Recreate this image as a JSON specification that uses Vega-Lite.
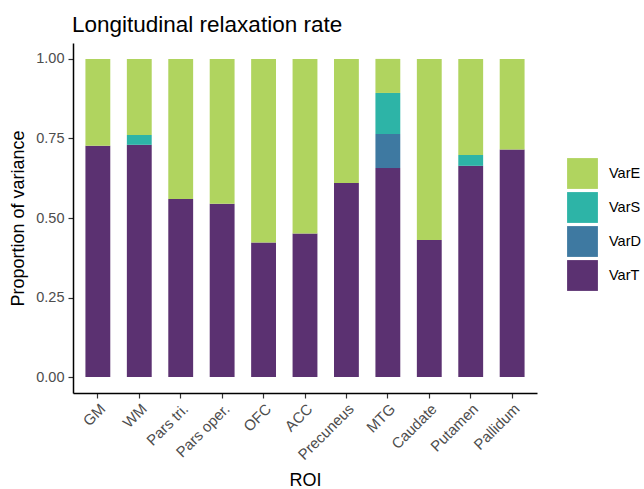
{
  "$schema": "https://vega.github.io/schema/vega-lite/v6.json",
  "autosize": {"type": "none"},
  "width": 464,
  "height": 350,
  "padding": {"left": 73, "top": 43, "right": 107, "bottom": 96},
  "background": "white",
  "title": {"text": "Longitudinal relaxation rate", "anchor": "start", "frame": "group", "offset": 7, "fontSize": 22.5, "fontWeight": "normal", "font": "Liberation Sans", "color": "#000000", "dx": -1},
  "data": {"values": [
    {"roi": "GM", "component": "VarT", "value": 0.727},
    {"roi": "GM", "component": "VarE", "value": 0.273},
    {"roi": "WM", "component": "VarT", "value": 0.730},
    {"roi": "WM", "component": "VarS", "value": 0.031},
    {"roi": "WM", "component": "VarE", "value": 0.239},
    {"roi": "Pars tri.", "component": "VarT", "value": 0.560},
    {"roi": "Pars tri.", "component": "VarE", "value": 0.440},
    {"roi": "Pars oper.", "component": "VarT", "value": 0.545},
    {"roi": "Pars oper.", "component": "VarE", "value": 0.455},
    {"roi": "OFC", "component": "VarT", "value": 0.423},
    {"roi": "OFC", "component": "VarE", "value": 0.577},
    {"roi": "ACC", "component": "VarT", "value": 0.451},
    {"roi": "ACC", "component": "VarE", "value": 0.549},
    {"roi": "Precuneus", "component": "VarT", "value": 0.610},
    {"roi": "Precuneus", "component": "VarE", "value": 0.390},
    {"roi": "MTG", "component": "VarT", "value": 0.657},
    {"roi": "MTG", "component": "VarD", "value": 0.107},
    {"roi": "MTG", "component": "VarS", "value": 0.129},
    {"roi": "MTG", "component": "VarE", "value": 0.107},
    {"roi": "Caudate", "component": "VarT", "value": 0.431},
    {"roi": "Caudate", "component": "VarE", "value": 0.569},
    {"roi": "Putamen", "component": "VarT", "value": 0.664},
    {"roi": "Putamen", "component": "VarS", "value": 0.034},
    {"roi": "Putamen", "component": "VarE", "value": 0.302},
    {"roi": "Pallidum", "component": "VarT", "value": 0.715},
    {"roi": "Pallidum", "component": "VarE", "value": 0.285}
  ]},
  "transform": [
    {"calculate": "indexof(['VarT','VarD','VarS','VarE'], datum.component)", "as": "stackOrder"}
  ],
  "mark": {"type": "bar"},
  "encoding": {
    "x": {
      "field": "roi", "type": "nominal",
      "sort": ["GM", "WM", "Pars tri.", "Pars oper.", "OFC", "ACC", "Precuneus", "MTG", "Caudate", "Putamen", "Pallidum"],
      "scale": {"paddingInner": 0.4, "paddingOuter": 0.3},
      "axis": {"title": "ROI", "labelAngle": -45, "labelAlign": "right", "labelBaseline": "top", "labelFont": "Liberation Sans", "labelFontSize": 15, "labelColor": "#4D4D4D", "titleFont": "Liberation Sans", "titleFontSize": 18, "titleFontWeight": "normal", "titleColor": "#000000", "domainColor": "#000000", "domainWidth": 1.5, "tickColor": "#333333", "tickSize": 5, "tickWidth": 1.2, "labelPadding": 3, "titlePadding": 9}
    },
    "y": {
      "field": "value", "type": "quantitative", "stack": "zero",
      "scale": {"domain": [-0.05, 1.05], "nice": false, "zero": false},
      "axis": {"title": "Proportion of variance", "values": [0, 0.25, 0.5, 0.75, 1], "format": ".2f", "grid": false, "labelFont": "Liberation Sans", "labelFontSize": 14.5, "labelColor": "#4D4D4D", "titleFont": "Liberation Sans", "titleFontSize": 18, "titleFontWeight": "normal", "titleColor": "#000000", "domainColor": "#000000", "domainWidth": 1.5, "tickColor": "#333333", "tickSize": 5, "tickWidth": 1.2, "labelPadding": 4, "titlePadding": 8}
    },
    "color": {
      "field": "component", "type": "nominal",
      "scale": {"domain": ["VarE", "VarS", "VarD", "VarT"], "range": ["#B0D45F", "#2DB4A7", "#3E79A1", "#5B3171"]},
      "legend": {"title": null, "orient": "none", "legendX": 494, "legendY": 115, "symbolType": "square", "symbolSize": 950, "symbolStrokeWidth": 0, "rowPadding": 3, "labelFont": "Liberation Sans", "labelFontSize": 14.5, "labelColor": "#000000", "labelOffset": 11}
    },
    "order": {"field": "stackOrder", "type": "quantitative", "sort": "ascending"}
  },
  "config": {"view": {"stroke": null}}
}
